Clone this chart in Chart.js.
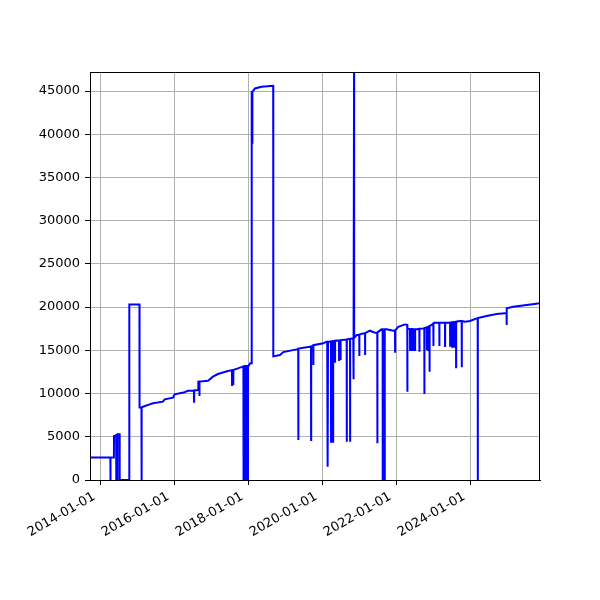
<!DOCTYPE html>
<html>
<head>
<meta charset="utf-8">
<script src="https://cdn.jsdelivr.net/npm/chart.js@4.4.1/dist/chart.umd.min.js"></script>
<style>
  body { margin: 0; background: #fff; }
  #wrap { width: 600px; height: 600px; }
</style>
</head>
<body>
<div id="wrap"><canvas id="grafico" width="600" height="600"></canvas></div>
<script>
const dates = [
  "2013-09-22","2014-04-11","2014-04-12","2014-04-13","2014-05-16","2014-05-17",
  "2014-06-07","2014-06-08","2014-06-09","2014-06-19","2014-06-20","2014-06-21",
  "2014-07-11","2014-07-12","2014-10-14","2014-10-15","2015-01-23","2015-01-24",
  "2015-02-12","2015-02-13","2015-02-14","2015-03-18","2015-05-04","2015-06-05",
  "2015-09-12","2015-09-29","2015-12-20","2016-01-05","2016-04-13","2016-05-16",
  "2016-07-14","2016-07-15","2016-07-16","2016-08-25","2016-08-26","2016-09-05",
  "2016-09-06","2016-09-07","2016-11-30","2017-01-17","2017-03-08","2017-06-14",
  "2017-07-24","2017-07-25","2017-07-26","2017-08-05","2017-08-06","2017-08-07",
  "2017-09-21","2017-10-08",
  "2017-11-14","2017-11-15","2017-11-16","2017-11-29","2017-11-30","2017-12-01",
  "2017-12-14","2017-12-15","2017-12-16","2017-12-28","2017-12-29","2017-12-30",
  "2018-01-20","2018-02-03","2018-02-04","2018-02-09","2018-02-10","2018-02-11",
  "2018-03-08","2018-05-13","2018-09-04","2018-09-05","2018-11-10","2018-12-12",
  "2019-04-23","2019-05-09","2019-05-10","2019-05-11","2019-09-02","2019-09-12",
  "2019-09-13","2019-09-14","2019-10-04","2019-10-05","2019-10-06","2020-01-11",
  "2020-02-13","2020-02-19","2020-02-20","2020-02-21","2020-02-25","2020-02-26",
  "2020-02-27","2020-03-27","2020-03-28","2020-03-29","2020-04-16","2020-04-17",
  "2020-04-18","2020-05-05","2020-05-06","2020-05-07","2020-06-14","2020-06-15",
  "2020-06-16","2020-06-29","2020-06-30","2020-07-01","2020-08-29","2020-08-30",
  "2020-08-31","2020-09-14","2020-10-01","2020-10-02","2020-10-03","2020-11-02",
  "2020-11-03","2020-11-04","2020-11-09","2020-11-10","2020-11-11","2020-12-06",
  "2020-12-31","2021-01-01","2021-01-02","2021-02-09","2021-02-26","2021-02-27",
  "2021-02-28","2021-04-16","2021-06-04","2021-06-27","2021-06-28","2021-06-29",
  "2021-08-09","2021-08-19","2021-08-20","2021-09-08","2021-09-09","2021-09-28",
  "2021-12-02","2021-12-19","2021-12-20","2021-12-21","2022-01-20","2022-03-27",
  "2022-04-19","2022-04-20","2022-04-21","2022-05-16","2022-05-17","2022-05-18",
  "2022-06-04","2022-06-05","2022-06-06","2022-06-24","2022-06-25","2022-06-26",
  "2022-07-04","2022-07-05","2022-07-06","2022-07-21","2022-08-16","2022-08-17",
  "2022-08-18","2022-09-24","2022-10-04","2022-10-05","2022-10-06","2022-10-28",
  "2022-10-29","2022-10-30","2022-11-09","2022-11-10","2022-11-11","2022-11-24",
  "2022-11-25","2022-11-26","2022-12-16","2023-01-01","2023-01-02","2023-01-03",
  "2023-01-17","2023-03-01","2023-03-02","2023-03-03","2023-04-26","2023-04-27",
  "2023-04-28","2023-05-13","2023-06-15","2023-06-16","2023-06-17","2023-07-04",
  "2023-07-05","2023-07-06","2023-07-24","2023-07-25","2023-07-26","2023-08-13",
  "2023-08-14","2023-08-15","2023-09-21","2023-10-08","2023-10-09","2023-10-10",
  "2023-11-10","2023-12-29","2024-03-04","2024-03-14","2024-03-15","2024-03-16",
  "2024-06-11","2024-09-17","2024-12-08","2024-12-24","2024-12-25","2024-12-26",
  "2025-02-28","2025-07-11","2025-11-19"
];

const values = [
  2600, 2600, 0, 2600, 2600, 5100,
  5100, 0, 5200, 5200, 0, 5300,
  5300, 0, 0, 20300, 20300, 8400,
  8400, 0, 8400, 8560, 8750, 8870,
  9060, 9330, 9520, 9910, 10150, 10330,
  10350, 9060, 10360, 10400, 11370, 11380,
  9720, 11390, 11490, 11950, 12260, 12610,
  12700, 10990, 12710, 12720, 10990, 12730,
  12920, 13000,
  13100, 0, 13150, 13150, 0, 13200,
  13200, 0, 13200, 13200, 0, 13100,
  13500, 13500, 44900, 44900, 38900, 44900,
  45300, 45490, 45600, 14300, 14460, 14800,
  15110, 15150, 4630, 15200, 15420, 15430,
  4630, 15450, 15550, 13300, 15600, 15810,
  16000, 16000, 4430, 16000, 16000, 1540,
  16000, 16020, 4430, 16040, 16060, 4430,
  16080, 16100, 13680, 16110, 16150, 13880,
  16160, 16170, 13880, 16190, 16250, 4430,
  16260, 16300, 16320, 4430, 16340, 16400,
  11650, 16400, 16420, 47200, 16440, 16770,
  16800, 14340, 16820, 16960, 16980, 14460,
  17000, 17270, 17040, 17060, 4240, 17080,
  17430, 17430, 0, 0, 17430, 17430,
  17270, 17300, 14840, 17320, 17730, 18000,
  17950, 10210, 17500, 17480, 15040, 17470,
  17460, 15040, 17450, 17440, 15040, 17440,
  17430, 15040, 17430, 17430, 17470, 14840,
  17480, 17540, 17560, 9950, 17580, 17650,
  15040, 17660, 17700, 15040, 17720, 17800,
  12530, 17820, 17930, 18100, 15500, 18110,
  18200, 18200, 15500, 18200, 18200, 15500,
  18200, 18200, 18220, 15420, 18230, 18250,
  15420, 18260, 18280, 15420, 18290, 18310,
  13030, 18320, 18390, 18400, 13030, 18400,
  18310, 18390, 18700, 18720, 0, 18740,
  18970, 19200, 19280, 19290, 17930, 19860,
  20040, 20240, 20440
];

const xTickLabels = ["2014-01-01", "2016-01-01", "2018-01-01", "2020-01-01", "2022-01-01", "2024-01-01"];
const yTicks = [0, 5000, 10000, 15000, 20000, 25000, 30000, 35000, 40000, 45000];
const yMax = 47200;

const puntos = dates.map((d, i) => ({ x: Date.parse(d), y: values[i] }));

// marco completo alrededor del area del grafico
const marco = {
  id: "marco",
  afterDatasetsDraw(chart) {
    const a = chart.chartArea;
    const ctx = chart.ctx;
    ctx.save();
    ctx.strokeStyle = "#000";
    ctx.lineWidth = 1;
    ctx.strokeRect(Math.round(a.left) + 0.5, Math.round(a.top) + 0.5,
      Math.round(a.right - a.left) - 1, Math.round(a.bottom - a.top));
    ctx.restore();
  }
};

new Chart(document.getElementById("grafico"), {
  type: "line",
  data: {
    datasets: [{
      data: puntos,
      borderColor: "#0000ff",
      borderWidth: 2,
      pointRadius: 0,
      tension: 0,
      fill: false
    }]
  },
  options: {
    responsive: false,
    animation: false,
    devicePixelRatio: 1,
    layout: { padding: { left: 0, right: 60, top: 72, bottom: 0 } },
    plugins: {
      legend: { display: false },
      tooltip: { enabled: false }
    },
    scales: {
      x: {
        type: "linear",
        min: Date.parse(dates[0]),
        max: Date.parse(dates[dates.length - 1]),
        afterBuildTicks: (scale) => {
          scale.ticks = xTickLabels.map(s => ({ value: Date.parse(s) }));
        },
        afterFit: (scale) => { scale.height = 120; },
        grid: { color: "#b0b0b0", lineWidth: 1, tickColor: "#000", tickLength: 5 },
        border: { color: "#000", width: 1 },
        ticks: {
          autoSkip: false,
          minRotation: 30,
          maxRotation: 30,
          padding: 4,
          labelOffset: -6,
          color: "#000",
          font: { family: "DejaVu Sans", size: 13 },
          callback: (value, index) => xTickLabels[index]
        }
      },
      y: {
        min: 0,
        max: yMax,
        afterBuildTicks: (scale) => {
          scale.ticks = yTicks.map(v => ({ value: v }));
        },
        afterFit: (scale) => { scale.width = 90; },
        grid: { color: "#b0b0b0", lineWidth: 1, tickColor: "#000", tickLength: 5 },
        border: { color: "#000", width: 1 },
        ticks: {
          autoSkip: false,
          padding: 5,
          color: "#000",
          font: { family: "DejaVu Sans", size: 13 },
          callback: (value) => String(value)
        }
      }
    }
  },
  plugins: [marco]
});
</script>
</body>
</html>
